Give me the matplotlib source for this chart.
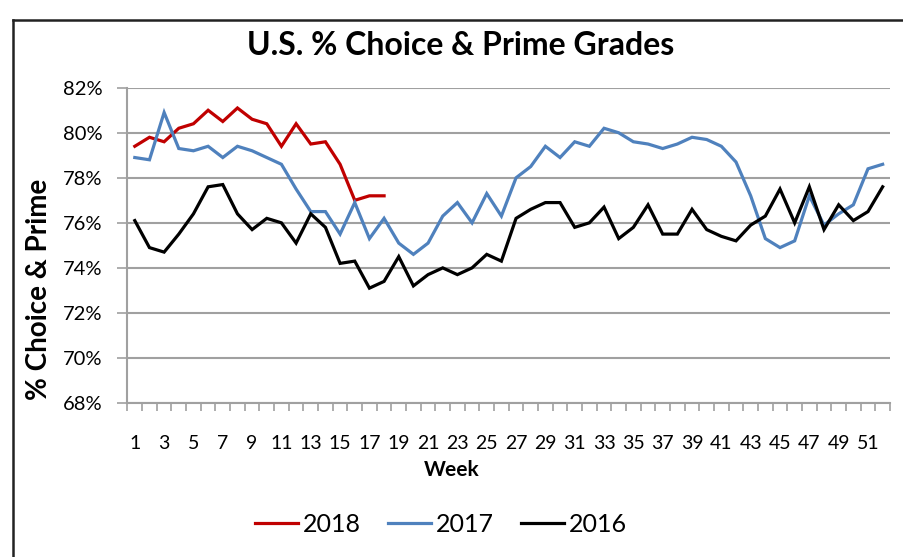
import matplotlib
matplotlib.use('Agg')
import matplotlib.pyplot as plt
from matplotlib.lines import Line2D
from matplotlib.ticker import FuncFormatter

plt.rcParams['font.family'] = ['Lato', 'DejaVu Sans']

# Weekly % Choice & Prime
weeks = list(range(1, 53))

pct_2018 = [79.4, 79.8, 79.6, 80.2, 80.4, 81.0, 80.5, 81.1, 80.6, 80.4,
            79.4, 80.4, 79.5, 79.6, 78.6, 77.0, 77.2, 77.2]

pct_2017 = [78.9, 78.8, 80.9, 79.3, 79.2, 79.4, 78.9, 79.4, 79.2, 78.9,
            78.6, 77.5, 76.5, 76.5, 75.5, 76.9, 75.3, 76.2, 75.1, 74.6,
            75.1, 76.3, 76.9, 76.0, 77.3, 76.3, 78.0, 78.5, 79.4, 78.9,
            79.6, 79.4, 80.2, 80.0, 79.6, 79.5, 79.3, 79.5, 79.8, 79.7,
            79.4, 78.7, 77.2, 75.3, 74.9, 75.2, 77.2, 75.9, 76.4, 76.8,
            78.4, 78.6]

pct_2016 = [76.1, 74.9, 74.7, 75.5, 76.4, 77.6, 77.7, 76.4, 75.7, 76.2,
            76.0, 75.1, 76.4, 75.8, 74.2, 74.3, 73.1, 73.4, 74.5, 73.2,
            73.7, 74.0, 73.7, 74.0, 74.6, 74.3, 76.2, 76.6, 76.9, 76.9,
            75.8, 76.0, 76.7, 75.3, 75.8, 76.8, 75.5, 75.5, 76.6, 75.7,
            75.4, 75.2, 75.9, 76.3, 77.5, 76.0, 77.6, 75.7, 76.8, 76.1,
            76.5, 77.6]

series = [('2018', pct_2018, '#C00000'),
          ('2017', pct_2017, '#4F81BD'),
          ('2016', pct_2016, '#000000')]

grid_col = '#a0a0a0'

fig = plt.figure(figsize=(9.04, 5.57), dpi=100)
ax = fig.add_axes([0.141, 0.2765, 0.8435, 0.566])

for label, vals, col in series:
    ax.plot(weeks[:len(vals)], vals, color=col, lw=2.3, label=label,
            solid_joinstyle='miter')

ax.set_xlim(0.5, 52.5)
ax.set_ylim(68, 82)
ax.set_yticks(range(68, 83, 2))
ax.yaxis.set_major_formatter(FuncFormatter(lambda v, p: f'{v:.0f}%'))
ax.grid(axis='y', color=grid_col, lw=1.5)
ax.set_axisbelow(True)

ax.set_xticks(weeks[::2])
ax.set_xticks([w - 0.5 for w in weeks] + [52.5], minor=True)
ax.tick_params(axis='x', which='major', length=0, pad=23, labelsize=14)
ax.tick_params(axis='x', which='minor', length=6, color=grid_col, width=1.2)
ax.tick_params(axis='y', length=7, color=grid_col, width=1.2, labelsize=14.5,
               pad=11)

for s in ['top', 'right']:
    ax.spines[s].set_visible(False)
for s in ['left', 'bottom']:
    ax.spines[s].set_color(grid_col)
    ax.spines[s].set_linewidth(1.5)

fig.text(0.51, 0.919, 'U.S. % Choice & Prime Grades', ha='center',
         va='center', fontsize=23, fontweight='bold')
fig.text(0.043, 0.481, '% Choice & Prime', rotation=90, ha='center',
         va='center', fontsize=20, fontweight='bold')
fig.text(0.5, 0.157, 'Week', ha='center', va='center', fontsize=15,
         fontweight='bold')

fig.legend(loc='center', bbox_to_anchor=(0.488, 0.058), ncol=3, frameon=False,
           fontsize=18, handlelength=1.7, handletextpad=0.2,
           columnspacing=1.1)

# chart frame
fig.add_artist(Line2D([0.0144, 0.0144], [0, 0.964], color='#222222', lw=1.8))
fig.add_artist(Line2D([0.0144, 1.0], [0.964, 0.964], color='#222222', lw=1.8))

fig.savefig('out.png', dpi=100)
